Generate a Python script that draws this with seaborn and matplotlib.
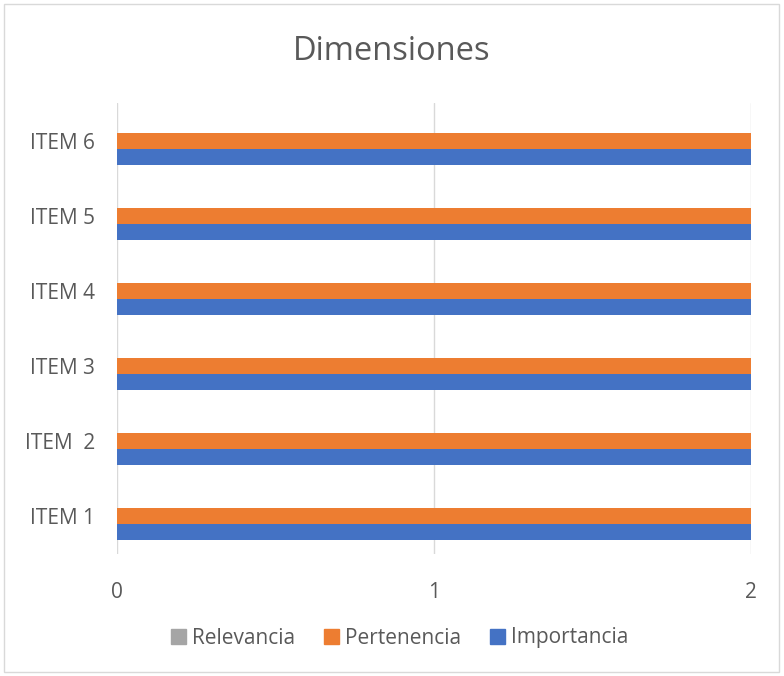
import matplotlib
matplotlib.use("Agg")
import matplotlib.pyplot as plt
import seaborn as sns
import pandas as pd
from matplotlib.patches import Rectangle

items = ["ITEM 6", "ITEM 5", "ITEM 4", "ITEM 3", "ITEM  2", "ITEM 1"]
relevancia = [0, 0, 0, 0, 0, 0]
pertenencia = [2, 2, 2, 2, 2, 2]
importancia = [2, 2, 2, 2, 2, 2]
series = ["Relevancia", "Pertenencia", "Importancia"]
colors = ["#a5a5a5", "#ed7d31", "#4472c4"]

df = pd.DataFrame({
    "item": items * 3,
    "valor": relevancia + pertenencia + importancia,
    "serie": [s for s in series for _ in items],
})

sns.set_style("white")
plt.rcParams["font.family"] = ["Open Sans", "DejaVu Sans"]
text_color = "#595959"

fig = plt.figure(figsize=(7.84, 6.76), dpi=100)
ax = fig.add_axes([117 / 784, 1 - 554 / 676, (751 - 117) / 784, (554 - 103) / 676])

sns.barplot(data=df, x="valor", y="item", hue="serie", order=items,
            hue_order=series, palette=colors, orient="h", width=0.64,
            saturation=1, linewidth=0, ax=ax, legend=False)

ax.set_xlim(0, 2)
ax.set_xticks([0, 1, 2])
ax.set_xlabel("")
ax.set_ylabel("")
ax.xaxis.grid(True, color="#d9d9d9", linewidth=1)
ax.set_axisbelow(True)
for sp in ax.spines.values():
    sp.set_visible(False)
ax.tick_params(axis="x", length=0, pad=20, labelsize=15, labelcolor=text_color)
ax.tick_params(axis="y", length=0, pad=16, labelsize=15, labelcolor=text_color)

fig.text(0.5, 1 - 52 / 676, "Dimensiones", ha="center", va="center",
         fontsize=23.5, color=text_color)

handles = [Rectangle((0, 0), 1, 1, color=c) for c in colors]
fig.legend(handles, series, loc="center", bbox_to_anchor=(0.51, 1 - 638 / 676),
           ncol=3, frameon=False, handlelength=0.7, handleheight=0.7,
           handletextpad=0.3, columnspacing=1.4, fontsize=15,
           labelcolor=text_color)

fig.patches.append(Rectangle((4 / 784, 4 / 676), 775 / 784, 668 / 676,
                             transform=fig.transFigure, fill=False,
                             edgecolor="#d9d9d9", linewidth=1))

fig.savefig("out.png", dpi=100)
